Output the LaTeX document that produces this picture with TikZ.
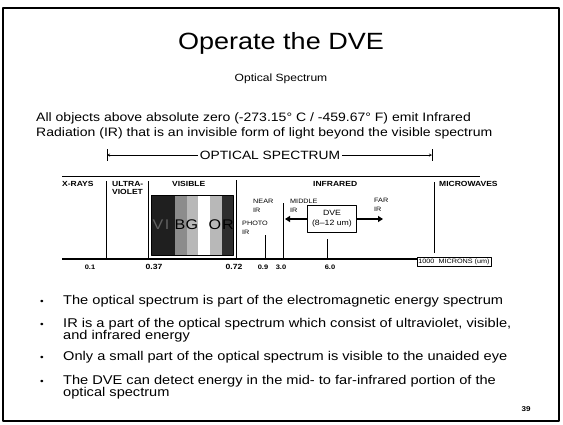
\documentclass[tikz,border=0pt]{standalone}
\usepackage{fontspec}
\setmainfont[FakeStretch=1.15]{Liberation Sans}
\usetikzlibrary{arrows.meta,positioning}
\begin{document}
\begin{tikzpicture}[x=1pt,y=-1pt,>=stealth,line join=round,font=\fontsize{12}{14.5}\selectfont]
\tikzset{lbl/.style={font=\fontsize{7.4}{8}\selectfont\bfseries,inner sep=0pt,anchor=north west,align=left},
  sml/.style={lbl,font=\fontsize{6.3}{8.5}\selectfont},
  val/.style={font=\fontsize{6.5}{8}\selectfont\bfseries,inner sep=0pt},
  clr/.style={font=\fontsize{14}{14}\selectfont,inner sep=0pt},
  item/.style={anchor=north west,inner sep=0pt,align=left,font=\fontsize{12.7}{12.5}\selectfont},
  dot/.style={inner sep=0pt,font=\fontsize{9}{9}\selectfont}}
\def\ya{259} \def\yb{181}
\useasboundingbox (0,0) rectangle (563,424);
\draw[line width=1.3pt] (3,8) rectangle (559,421);
\node (title) at (281,43) {\fontsize{23.5}{28}\selectfont Operate the DVE};
\node (sub) at (281,79) {\fontsize{10.5}{12}\selectfont Optical Spectrum};
\node[anchor=north west,align=left,inner sep=0pt,font=\fontsize{12.2}{15}\selectfont] (intro) at (36,112)
  {All objects above absolute zero (-273.15° C / -459.67° F) emit Infrared\\
   Radiation (IR) that is an invisible form of light beyond the visible spectrum};
% optical spectrum bracket
\node[inner sep=2pt,font=\fontsize{12}{14}\selectfont] (opt) at (270,155) {OPTICAL SPECTRUM};
\coordinate (optl) at (107,155);
\coordinate (optr) at (432,155);
\draw (107,149) -- (107,161);
\draw (432,149) -- (432,161);
\draw[->] (opt.west) -- (optl);
\draw[->] (opt.east) -- (optr);
% chart frame
\draw[line width=0.9pt] (62,176) -- (480,176);
\node[draw,inner sep=1.5pt,font=\fontsize{6.3}{8}\selectfont] (mic) at (454,262) {1000 \ MICRONS (um)};
\coordinate (axl) at (62,\ya);
\draw[line width=1.3pt] (axl) -- (mic.west |- axl);
% visible bands
\fill[black!88] (151,195) rectangle (175,255);
\fill[black!45] (175,195) rectangle (187,255);
\fill[black!28] (187,195) rectangle (198,255);
\fill[black!28] (210,195) rectangle (222,255);
\fill[black!82] (222,195) rectangle (233,255);
\draw[line width=0.6pt] (151,195) rectangle (233,255);
\node[clr,text=black!62] (v) at (158,225) {V};
\node[clr,text=black!62] (i) at (167,225) {I};
\node[clr] (b) at (180,225) {B};
\node[clr] (g) at (192,225) {G};
\node[clr] (o) at (215,225) {O};
\node[clr] (r) at (228,225) {R};
% region lines
\draw[line width=1pt] (106,\yb) -- (106,258);
\draw[line width=1pt] (148,\yb) -- (148,258);
\draw[line width=1pt] (236,180) -- (236,258);
\draw[line width=1pt] (283,203) -- (283,258);
\draw[line width=1pt] (434,182) -- (434,253);
\draw (265,235) -- (265,258);
\draw (327,239) -- (327,258);
% labels
\node[lbl] (xr) at (62,181) {X-RAYS};
\node[lbl] (uv) at (112,181) {ULTRA-\\VIOLET};
\node[lbl] (vis) at (172,181) {VISIBLE};
\node[lbl] (ir) at (313,181) {INFRARED};
\node[lbl] (mw) at (439,181) {MICROWAVES};
\node[sml] (nir) at (253,199) {NEAR\\IR};
\node[sml] (pir) at (242,221) {PHOTO\\IR};
\node[sml] (mir) at (290,199) {MIDDLE\\IR};
\node[sml] (fir) at (374,198) {FAR\\IR};
% DVE box
\node[draw,align=center,minimum width=49pt,minimum height=27pt,inner sep=1pt,
  font=\fontsize{7.6}{10}\selectfont] (dve) at (332,219) {DVE\\(8--12 um)};
\coordinate (dvel) at (285,219);
\coordinate (dver) at (383,219);
\draw[-{Triangle[length=5pt,width=6pt]},line width=1.8pt] (dve.west) -- (dvel);
\draw[-{Triangle[length=5pt,width=6pt]},line width=1.8pt] (dve.east) -- (dver);
% values
\node[val] (t1) at (90,267) {0.1};
\node[val,font=\fontsize{7.5}{8}\selectfont\bfseries] (t2) at (154,267) {0.37};
\node[val,font=\fontsize{7.5}{8}\selectfont\bfseries] (t3) at (234,267) {0.72};
\node[val] (t4) at (263,267) {0.9};
\node[val] (t5) at (281,267) {3.0};
\node[val] (t6) at (330,267) {6.0};
% bullets
\foreach \y in {302,325,358,382} \node[dot] at (42,\y) {•};
\node[item] (b1) at (63,295) {The optical spectrum is part of the electromagnetic energy spectrum};
\node[item] (b2) at (63,318) {IR is a part of the optical spectrum which consist of ultraviolet, visible,\\and infrared energy};
\node[item] (b3) at (63,351) {Only a small part of the optical spectrum is visible to the unaided eye};
\node[item] (b4) at (63,375) {The DVE can detect energy in the mid- to far-infrared portion of the\\optical spectrum};
\node[font=\fontsize{7}{8}\selectfont\bfseries] (pg) at (526,409) {39};
\end{tikzpicture}
\end{document}
